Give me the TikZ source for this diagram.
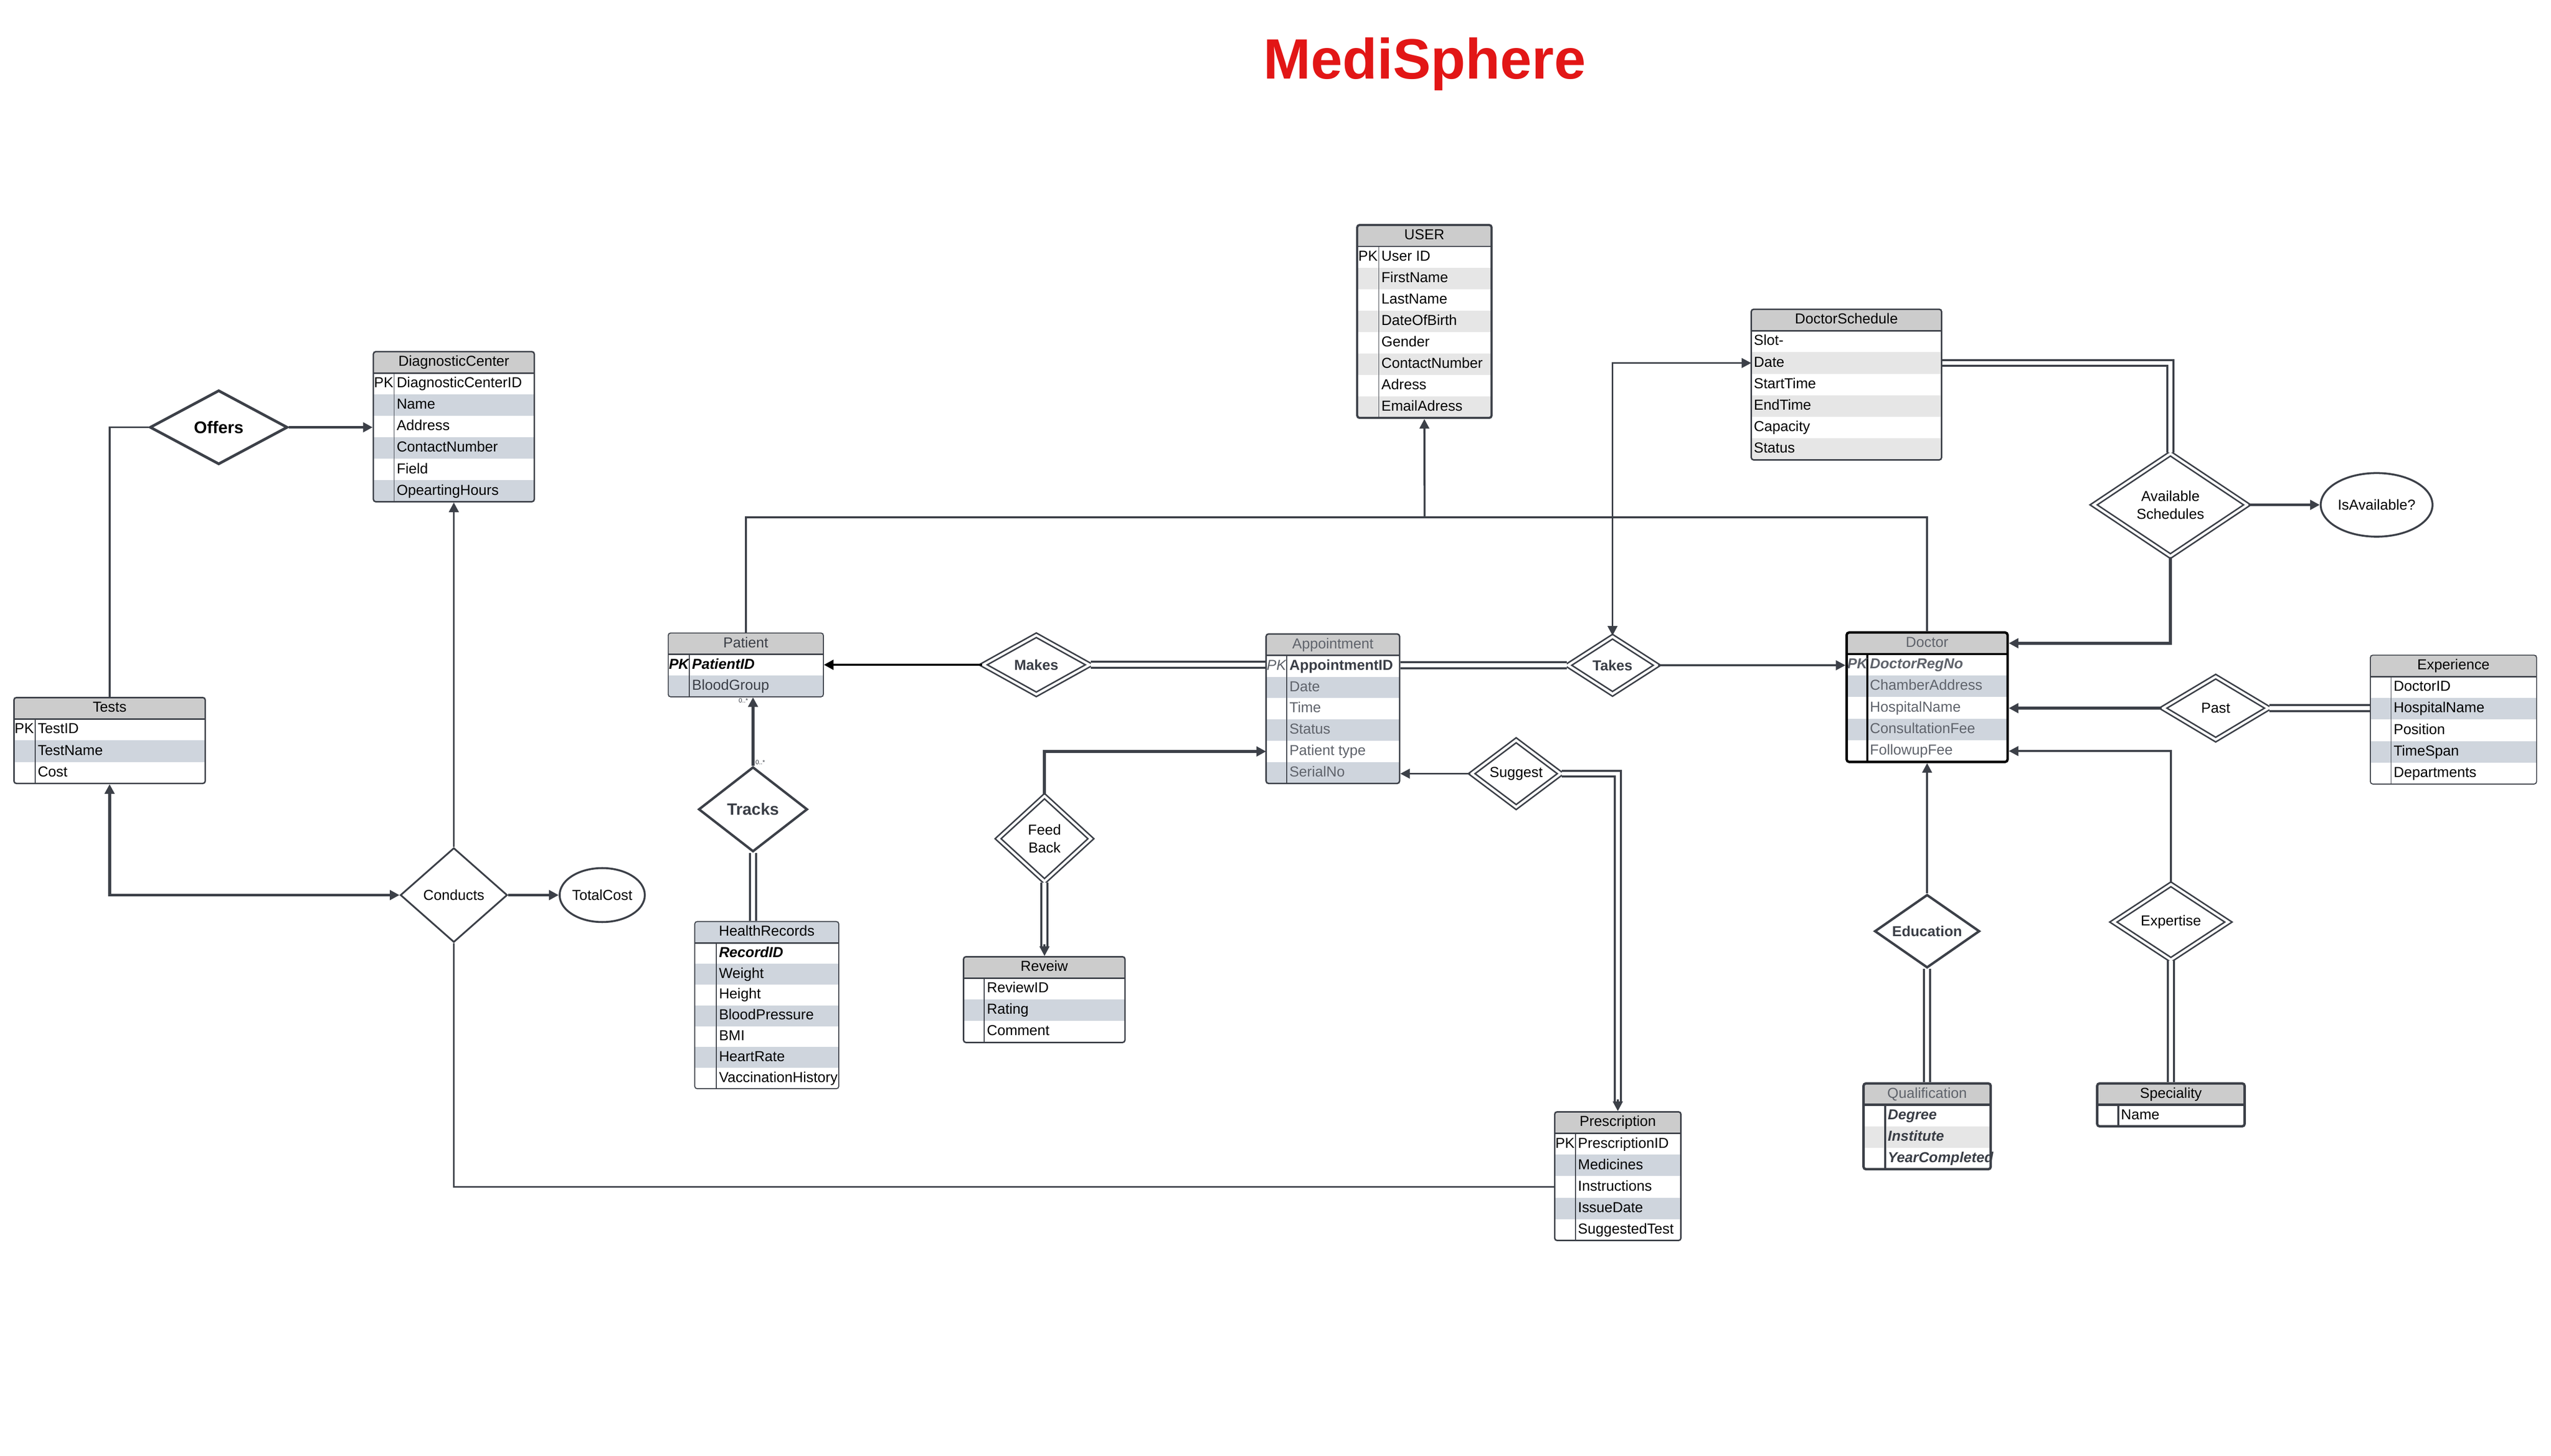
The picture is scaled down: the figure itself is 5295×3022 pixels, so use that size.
\documentclass[tikz,border=0pt]{standalone}
\usepackage{fontspec}
\setmainfont{Liberation Sans}
\usetikzlibrary{shapes.geometric, arrows.meta, fit, calc}
\definecolor{lc}{RGB}{60,64,72}
\definecolor{hdr}{RGB}{204,204,204}
\definecolor{bg}{RGB}{207,213,221}
\definecolor{lg}{RGB}{230,230,230}
\definecolor{gtext}{RGB}{95,99,107}
\definecolor{dtext}{RGB}{58,62,70}
\definecolor{titlered}{RGB}{226,22,22}
\newcommand{\erfont}{\fontsize{15}{18.5}\selectfont}
\newcommand{\hh}{44.5}
% name, left, top, width, pk width, title, header fill, row height, rows
\newcommand{\ertable}[9]{%
  \fill[#7] (#2,#3) rectangle ++(#4,\hh);
  \coordinate (#1-hc) at (#2+#4/2, #3+\hh/2);
  \node[hdrtext] (#1-h) at (#2+#4/2, #3+\hh/2+8) {#6};
  \foreach \rt/\rf [count=\ri] in {#9} {
    \fill[\rf] (#2, #3+\hh+\ri*#8-#8) rectangle ++(#4,#8);
    \coordinate (#1-r\ri) at (#2, #3+\hh+\ri*#8-#8/2);
    \node[rowtext] (#1-t\ri) at (#2+#5+5, #3+\hh+\ri*#8-#8/2+8) {\rt};
    \xdef\ernrows{\ri}
  }
  \draw[pksep] (#2+#5, #3+\hh) -- (#2+#5, #3+\hh+\ernrows*#8);
  \draw[hdrsep] (#2,#3+\hh) -- ++(#4,0);
  \node[tframe, fit={(#2,#3) (#2+#4,#3+\hh+\ernrows*#8)}] (#1) {};
}
\begin{document}
\begin{tikzpicture}[x=0.5pt, y=-0.5pt,
  rowtext/.style={anchor=base west, inner sep=0pt, font=\erfont, text=black},
  hdrtext/.style={anchor=base, inner sep=0pt, font=\erfont, text=black},
  tframe/.style={draw=lc, line width=1.5pt, rounded corners=2.5pt, inner sep=0pt},
  pksep/.style={draw=lc, line width=0.9pt},
  hdrsep/.style={draw=lc, line width=1.5pt},
  conn/.style={draw=lc, line width=2pt},
  tconn/.style={draw=lc, line width=3pt},
  bconn/.style={draw=black, line width=2.5pt},
  dconn/.style={draw=lc, line width=2.2pt, double=white, double distance=4pt},
  arr/.style={-{Triangle[length=10pt,width=10pt]}},
  arrtwo/.style={{Triangle[length=10pt,width=10pt]}-{Triangle[length=10pt,width=10pt]}},
  rel/.style={diamond, draw=lc, fill=white, inner sep=0pt, align=center, font=\erfont, line width=1.8pt},
  relS/.style={rel, line width=2.5pt},
  relD/.style={rel, line width=1.6pt, double=white, double distance=2.5pt},
  attr/.style={ellipse, draw=lc, fill=white, line width=2pt, inner sep=0pt, font=\erfont},
  card/.style={inner sep=0pt, font=\fontsize{6.5}{7}\selectfont, text=dtext}
]
\fill[white] (0,0) rectangle (5295,3022);
\useasboundingbox (0,0) rectangle (5295,3022);

% title
\node[anchor=base, inner sep=0pt, font=\fontsize{59}{70}\selectfont\bfseries, text=titlered] (title) at (2957,164) {MediSphere};

% ---------- tables ----------
\begin{scope}[tframe/.append style={line width=2.2pt}]
\ertable{user}{2817}{467}{279}{45}{USER}{hdr}{44.5}{User ID/white, FirstName/lg, LastName/white, DateOfBirth/lg, Gender/white, ContactNumber/lg, Adress/white, EmailAdress/lg}
\end{scope}
\node[rowtext] (user-pk) at ($(user-r1)+(2,8)$) {PK};

\ertable{dc}{775}{730}{334}{43}{DiagnosticCenter}{hdr}{44.5}{DiagnosticCenterID/white, Name/bg, Address/white, ContactNumber/bg, Field/white, OpeartingHours/bg}
\node[rowtext] (dc-pk) at ($(dc-r1)+(1,8)$) {PK};

\ertable{tests}{29}{1448}{397}{44}{Tests}{hdr}{44.6}{TestID/white, TestName/bg, Cost/white}
\node[rowtext] (tests-pk) at ($(tests-r1)+(1,8)$) {PK};

\begin{scope}[tframe/.append style={line width=1pt}, rowtext/.append style={text=dtext}, hdrtext/.append style={text=dtext}]
\ertable{patient}{1387}{1314}{322}{44}{Patient}{hdr}{44}{{\bfseries\itshape\color{black}PatientID}/white, BloodGroup/bg}
\node[rowtext, font=\erfont\bfseries\itshape, text=black] (patient-pk) at ($(patient-r1)+(1,8)$) {PK};
\end{scope}

\begin{scope}[tframe/.append style={line width=1pt}]
\ertable{hr}{1442}{1913}{299}{45}{HealthRecords}{bg}{43.2}{{\bfseries\itshape RecordID}/white, Weight/bg, Height/white, BloodPressure/bg, BMI/white, HeartRate/bg, VaccinationHistory/white}
\end{scope}

\ertable{rev}{2000}{1986}{335}{43}{Reveiw}{hdr}{44.5}{ReviewID/white, Rating/bg, Comment/white}

\begin{scope}[rowtext/.append style={text=gtext}, hdrtext/.append style={text=gtext}]
\ertable{appt}{2628}{1316}{277}{43}{Appointment}{hdr}{44.3}{{\bfseries\color{dtext}AppointmentID}/white, Date/bg, Time/white, Status/bg, Patient type/white, SerialNo/bg}
\node[rowtext, font=\erfont\itshape] (appt-pk) at ($(appt-r1)+(1,8)$) {PK};
\end{scope}

\ertable{presc}{3227}{2308}{262}{43}{Prescription}{hdr}{44.5}{PrescriptionID/white, Medicines/bg, Instructions/white, IssueDate/bg, SuggestedTest/white}
\node[rowtext] (presc-pk) at ($(presc-r1)+(1,8)$) {PK};

\begin{scope}[pksep/.style={draw=none}]
\ertable{ds}{3635}{642}{395}{0}{DoctorSchedule}{hdr}{44.7}{Slot-/white, Date/lg, StartTime/white, EndTime/lg, Capacity/white, Status/lg}
\end{scope}

\begin{scope}[tframe/.append style={draw=black, line width=2.5pt}, hdrsep/.style={draw=black, line width=2.5pt}, pksep/.style={draw=black, line width=1.8pt}, rowtext/.append style={text=gtext}, hdrtext/.append style={text=gtext}]
\ertable{doctor}{3833}{1313}{334}{43}{Doctor}{hdr}{44.8}{{\bfseries\itshape DoctorRegNo}/white, ChamberAddress/bg, HospitalName/white, ConsultationFee/bg, FollowupFee/white}
\node[rowtext, font=\erfont\bfseries\itshape] (doctor-pk) at ($(doctor-r1)+(1,8)$) {PK};
\end{scope}

\begin{scope}[tframe/.append style={line width=1pt}]
\ertable{exp}{4920}{1360}{345}{43}{Experience}{hdr}{44.6}{DoctorID/white, HospitalName/bg, Position/white, TimeSpan/bg, Departments/white}
\end{scope}

\begin{scope}[tframe/.append style={line width=2.5pt}, hdrsep/.style={draw=lc, line width=2.5pt}, pksep/.style={draw=lc, line width=2pt}, rowtext/.append style={text=dtext, font=\erfont\bfseries\itshape}, hdrtext/.append style={text=gtext}]
\ertable{qual}{3868}{2249}{264}{45}{Qualification}{hdr}{44.5}{Degree/white, Institute/lg, YearCompleted/white}
\end{scope}

\begin{scope}[tframe/.append style={line width=2.5pt}, hdrsep/.style={draw=lc, line width=2.5pt}, pksep/.style={draw=lc, line width=2pt}]
\ertable{spec}{4353}{2249}{306}{44}{Speciality}{hdr}{44.5}{Name/white}
\end{scope}

% ---------- relationships ----------
\node[relS, line width=2.8pt, minimum width=143pt, minimum height=77pt, aspect=1.8, font=\fontsize{17.5}{21}\selectfont\bfseries] (offers) at (454,887) {Offers};
\node[rel, minimum width=111pt, minimum height=98pt, aspect=1.13] (conducts) at (942,1858) {Conducts};
\node[relS, minimum width=113pt, minimum height=88pt, aspect=1.27, font=\fontsize{17}{20}\selectfont\bfseries, text=dtext] (tracks) at (1563,1680) {Tracks};
\node[relD, minimum width=111pt, minimum height=62pt, aspect=1.74, font=\erfont\bfseries, text=dtext] (makes) at (2151,1380) {Makes};
\node[relD, minimum width=97pt, minimum height=89pt, aspect=1.08] (feedback) at (2168,1741) {Feed\\Back};
\node[relD, minimum width=93pt, minimum height=70pt, aspect=1.31] (suggest) at (3147,1606) {Suggest};
\node[relD, minimum width=93pt, minimum height=60pt, aspect=1.5, font=\erfont\bfseries, text=dtext] (takes) at (3347,1381) {Takes};
\node[relD, minimum width=160pt, minimum height=107pt, aspect=1.48] (avail) at (4505,1048) {Available\\Schedules};
\node[relD, minimum width=110pt, minimum height=66pt, aspect=1.63] (past) at (4599,1470) {Past};
\node[relD, minimum width=120pt, minimum height=79pt, aspect=1.48] (expertise) at (4506,1914) {Expertise};
\node[relS, minimum width=109pt, minimum height=76pt, aspect=1.42, font=\erfont\bfseries, text=dtext] (education) at (4000,1933) {Education};

% ---------- attributes ----------
\node[attr, minimum width=87pt, minimum height=56pt] (totalcost) at (1250,1858) {TotalCost};
\node[attr, minimum width=116pt, minimum height=66pt] (isavail) at (4933,1048) {IsAvailable?};

% ---------- connectors ----------
\coordinate (bus) at (2957,1074);
\draw[conn] (offers.west) -| (tests.north);
\draw[tconn, arr] (offers.east) -- (offers.east -| dc.west);
\draw[conn, arr] (conducts.north) -- (dc.south);
\draw[tconn, arrtwo] (tests.south) |- (conducts.west);
\draw[tconn, arr] (conducts.east) -- (totalcost.west);
\draw[conn] (conducts.south) |- (presc-r3);

\draw[conn] (patient.north) |- (bus) -| (doctor.north);
\draw[conn, arr] (bus) -- (user.south);

\draw[bconn, arr] (makes.west) -- (makes.west -| patient.east);
\draw[dconn] (makes.east) -- (makes.east -| appt.west);
\draw[dconn] (takes.west -| appt.east) -- (takes.west);
\draw[conn, arr] (takes.east) -- (takes.east -| doctor.west);
\draw[conn, arrtwo] (takes.north) |- (ds-r2);
\draw[dconn] (ds-r2 -| ds.east) -| (avail.north);
\draw[tconn, arr] (avail.east) -- (isavail.west);
\draw[tconn, arr] (avail.south) |- (doctor-hc -| doctor.east);
\draw[tconn, arr] (past.west) -- (past.west -| doctor.east);
\draw[dconn] (past.east) -- (past.east -| exp.west);
\draw[conn, arr] (expertise.north) |- (doctor-r5 -| doctor.east);
\draw[dconn] (expertise.south) -- (expertise.south |- spec.north);
\draw[conn, arr] (education.north) -- (doctor.south);
\draw[dconn] (education.south) -- (education.south |- qual.north);

\draw[tconn, arr] (tracks.north) -- (tracks.north |- patient.south);
\draw[dconn] (tracks.south) -- (tracks.south |- hr.north);
\node[card] (card1) at (1543,1454) {0..*};
\node[card] (card2) at (1578,1582) {0..*};

\draw[tconn, arr] (feedback.north) |- (appt-r5);
\draw[dconn, shorten >=9pt] (feedback.south) -- (feedback.south |- rev.north);
\draw[conn, arr] ($(feedback.south |- rev.north)+(0,-24)$) -- (feedback.south |- rev.north);

\draw[conn, arr] (suggest.west) -- (suggest.west -| appt.east);
\draw[dconn, shorten >=9pt] (suggest.east) -| (presc.north);
\draw[conn, arr] ($(presc.north)+(0,-24)$) -- (presc.north);
\end{tikzpicture}
\end{document}
